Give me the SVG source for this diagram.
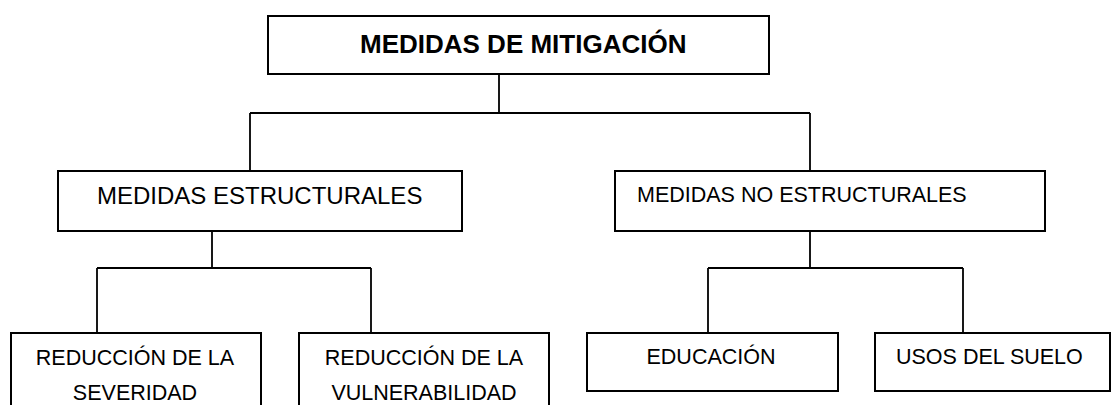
<svg xmlns="http://www.w3.org/2000/svg" width="1112" height="405" viewBox="0 0 1112 405">
<style>
.box{fill:#fff;stroke:#000;stroke-width:2}
.ln{fill:none;stroke:#000;stroke-width:1.8}
text{font-family:"Liberation Sans",Arial,sans-serif;fill:#000}
.t{font-size:21.5px}
.c{text-anchor:middle}
</style>
<rect width="1112" height="405" fill="#fff"/>
<g id="connectors">
<path class="ln" d="M499,74 V113 M250,113 H810 M250,113 V171 M810,113 V171"/>
<path class="ln" d="M212,231 V268 M97,268 H371 M97,268 V333 M371,268 V333"/>
<path class="ln" d="M810,231 V268 M708,268 H963 M708,268 V333 M963,268 V333"/>
</g>
<g id="root">
<rect class="box" x="268" y="16" width="501" height="58"/>
<text x="360" y="53" style="font-size:26px;font-weight:bold">MEDIDAS DE MITIGACIÓN</text>
</g>
<g id="estructurales">
<rect class="box" x="58" y="171" width="404" height="60"/>
<text x="97" y="204" style="font-size:24px">MEDIDAS ESTRUCTURALES</text>
</g>
<g id="no-estructurales">
<rect class="box" x="615" y="171" width="430" height="60"/>
<text class="t" x="637" y="202">MEDIDAS NO ESTRUCTURALES</text>
</g>
<g id="severidad">
<rect class="box" x="11" y="333" width="250" height="90"/>
<text class="t c" x="135" y="365">REDUCCIÓN DE LA</text>
<text class="t c" x="135" y="400">SEVERIDAD</text>
</g>
<g id="vulnerabilidad">
<rect class="box" x="299" y="333" width="250" height="90"/>
<text class="t c" x="424" y="365">REDUCCIÓN DE LA</text>
<text class="t c" x="424" y="400">VULNERABILIDAD</text>
</g>
<g id="educacion">
<rect class="box" x="587" y="333" width="251" height="58"/>
<text class="t c" x="711" y="364">EDUCACIÓN</text>
</g>
<g id="usos">
<rect class="box" x="875" y="333" width="235" height="58"/>
<text class="t" x="896" y="364">USOS DEL SUELO</text>
</g>
</svg>
